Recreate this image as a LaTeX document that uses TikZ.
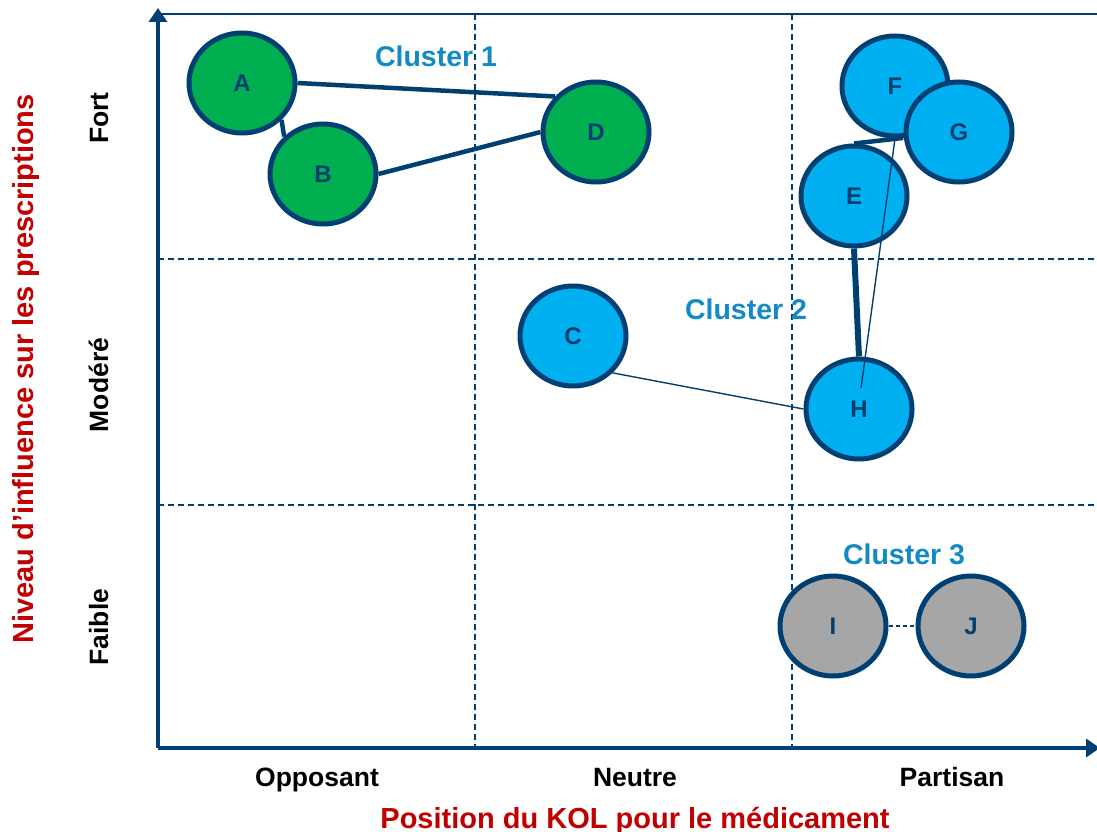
\documentclass[tikz,border=0pt]{standalone}
\usepackage{fontspec}
\setmainfont{Liberation Sans}
\usetikzlibrary{shapes.geometric,arrows.meta}
\definecolor{navy}{RGB}{0,63,114}
\definecolor{kgreen}{RGB}{0,176,80}
\definecolor{kblue}{RGB}{0,176,240}
\definecolor{kgray}{RGB}{166,166,166}
\definecolor{clus}{RGB}{18,138,196}
\definecolor{kred}{RGB}{192,0,0}
\tikzset{
  kol/.style={ellipse, draw=navy, line width=5pt, minimum width=106pt, minimum height=100pt, inner sep=0pt,
    text=navy, font=\fontsize{24}{28}\selectfont\bfseries},
  green/.style={kol, fill=kgreen},
  blue/.style={kol, fill=kblue},
  grey/.style={kol, fill=kgray},
  grid/.style={navy, line width=1.5pt, dash pattern=on 6pt off 4pt},
  axis/.style={navy, line width=4.5pt, -{Triangle[length=14pt,width=18pt]}},
  thick link/.style={navy, line width=4.5pt},
  thin link/.style={navy, line width=1.4pt},
  cluster/.style={text=clus, font=\fontsize{28.5}{32}\selectfont\bfseries, anchor=base},
  xlab/.style={font=\fontsize{26.5}{30}\selectfont\bfseries, anchor=base},
  ylab/.style={font=\fontsize{26.5}{30}\selectfont\bfseries, anchor=base, rotate=90},
  title/.style={text=kred, font=\fontsize{29}{33}\selectfont\bfseries, anchor=base},
}
\begin{document}
\begin{tikzpicture}[x=1pt, y=-1pt]
\useasboundingbox (0,0) rectangle (1097,832);
% grid
\draw[grid] (475,14) -- (475,748);
\draw[grid] (792,14) -- (792,748);
\draw[grid] (158,259) -- (1097,259);
\draw[grid] (158,505) -- (1097,505);
\draw[navy, line width=1.6pt] (160,14) -- (1097,14);
% axes
\coordinate (O) at (158,748);
\coordinate (ytop) at (158,8);
\coordinate (xend) at (1100,748);
\draw[axis] (O) -- (ytop);
\draw[axis] (O) -- (xend);
% nodes
\node[green] (A) at (242,83) {A};
\node[green] (B) at (323,174) {B};
\node[green] (D) at (596,132) {D};
\node[blue] (C) at (573,336) {C};
\node[blue] (F) at (895,86) {F};
\node[blue] (G) at (959,132) {G};
\node[blue] (E) at (854,196) {E};
\node[blue] (H) at (859,409) {H};
\node[grey] (I) at (833,626) {I};
\node[grey] (J) at (971,626) {J};
\coordinate (Hin) at (861,388);
% links
\draw[thick link] (A.east) -- (D.139);
\draw[thick link] (A.-43) -- (B.136);
\draw[thick link] (B.east) -- (D.west);
\draw[thick link] (E.north) -- (F.-81);
\draw[navy, line width=6pt] (E.south) -- (H.north);
\draw[thin link] (F.south) -- (Hin);
\draw[thin link] (C.-43) -- (H.west);
\draw[thin link, dash pattern=on 4pt off 3pt] (I.east) -- (J.west);
% cluster labels
\node[cluster] (c1) at (436,67) {Cluster 1};
\node[cluster] (c2) at (746,319) {Cluster 2};
\node[cluster] (c3) at (904,564) {Cluster 3};
% axis labels
\node[xlab] (xo) at (317,786) {Opposant};
\node[xlab] (xn) at (635,786) {Neutre};
\node[xlab] (xp) at (952,786) {Partisan};
\node[title] (xt) at (635,828) {Position du KOL pour le médicament};
\node[ylab] (yf) at (108,118) {Fort};
\node[ylab] (ym) at (108,385) {Modéré};
\node[ylab] (yb) at (108,627) {Faible};
\node[title, rotate=90] (yt) at (33,369) {Niveau d’influence sur les prescriptions};
\end{tikzpicture}
\end{document}
